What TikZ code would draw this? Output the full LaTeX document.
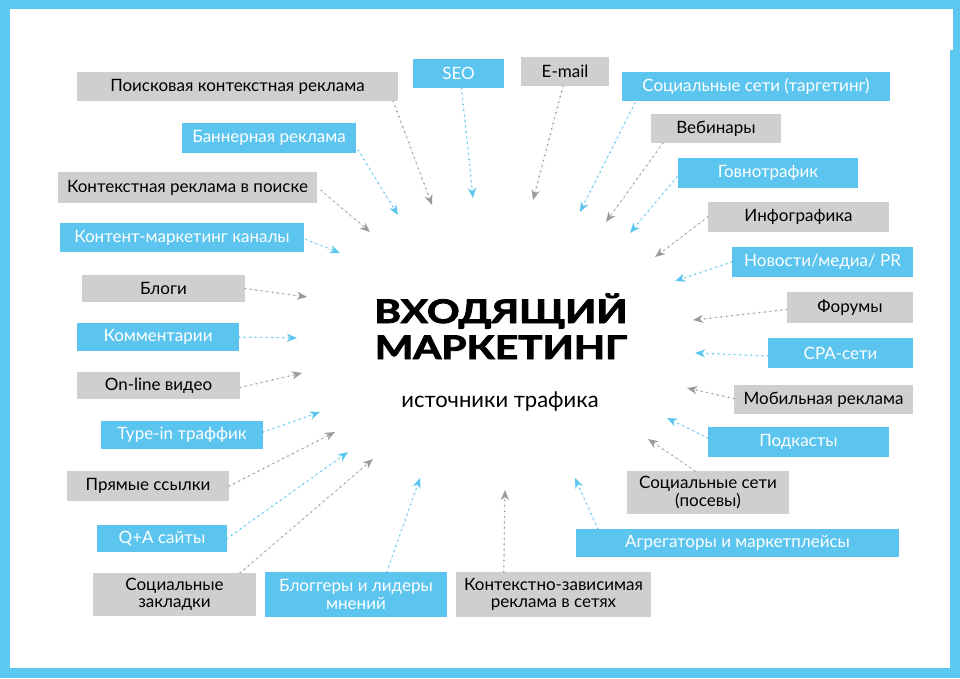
\documentclass[tikz,border=0pt]{standalone}
\usepackage{fontspec}
\setmainfont{Lato}
\newfontfamily\titlefont{Lato}[BoldFeatures={FakeBold=2.5}]
\usetikzlibrary{arrows.meta}
\definecolor{skyb}{HTML}{5BC5F0}
\definecolor{boxg}{HTML}{CFCFD2}
\definecolor{arrg}{HTML}{9B9B9E}
\definecolor{frameb}{HTML}{5CC8F2}
\tikzset{
  box/.style={rectangle, inner sep=0pt, align=center, font=\fontsize{17}{17.5}\selectfont},
  gbox/.style={box, fill=boxg, text=black},
  bbox/.style={box, fill=skyb, text=white},
  arr/.style={line width=1.8pt, dash pattern=on 0pt off 5.5pt, line cap=round,
    -{Stealth[length=10pt,width=8pt,inset=3pt,line cap=butt]}},
  garr/.style={arr, draw=arrg, fill=arrg},
  barr/.style={arr, draw=skyb, fill=skyb},
  ttl/.style={anchor=base, inner sep=0pt, font=\titlefont\bfseries\fontsize{32.5}{32.5}\selectfont},
}
\begin{document}
\begin{tikzpicture}[x=1pt,y=-1pt]
\useasboundingbox (0,0) rectangle (960,678);
\fill[frameb] (0,0) rectangle (960,678);
\fill[white] (10,9) rectangle (950,668);
\fill[white] (949,9) rectangle (953,50);

% title
\node[ttl] (t1) at (501,323) {\scalebox{1.25}[1]{ВХОДЯЩИЙ}};
\node[ttl] (t2) at (501,359) {\scalebox{1.25}[1]{МАРКЕТИНГ}};
\node[anchor=base, font=\fontsize{22}{22}\selectfont, inner sep=0pt] (t3) at (500,407) {источники трафика};

% boxes
\node[gbox, minimum width=321pt, minimum height=29pt] (n1) at (237.5,86.5) {Поисковая контекстная реклама};
\node[bbox, minimum width=91pt, minimum height=29pt] (n2) at (458.5,73.5) {SEO};
\node[gbox, minimum width=88pt, minimum height=29pt] (n3) at (565,71.5) {E-mail};
\node[bbox, minimum width=268pt, minimum height=29pt] (n4) at (756,86.5) {Социальные сети (таргетинг)};
\node[bbox, minimum width=174pt, minimum height=30pt] (n5) at (269,138) {Баннерная реклама};
\node[gbox, minimum width=130pt, minimum height=29pt] (n6) at (716,128.5) {Вебинары};
\node[gbox, minimum width=259pt, minimum height=31pt] (n7) at (187.5,187.5) {Контекстная реклама в поиске};
\node[bbox, minimum width=180pt, minimum height=30pt] (n8) at (768,173) {Говнотрафик};
\node[bbox, minimum width=244pt, minimum height=29pt] (n9) at (182,237.5) {Контент-маркетинг каналы};
\node[gbox, minimum width=181pt, minimum height=30pt] (n10) at (798.5,217) {Инфографика};
\node[bbox, minimum width=181pt, minimum height=30pt] (n11) at (822.5,262) {Новости/медиа/ PR};
\node[gbox, minimum width=163pt, minimum height=27pt] (n12) at (163.5,288.5) {Блоги};
\node[gbox, minimum width=126pt, minimum height=31pt] (n13) at (850,307.5) {Форумы};
\node[bbox, minimum width=162pt, minimum height=28pt] (n14) at (158,337) {Комментарии};
\node[bbox, minimum width=145pt, minimum height=30pt] (n15) at (840.5,353) {CPA-сети};
\node[gbox, minimum width=163pt, minimum height=27pt] (n16) at (158.5,385.5) {On-line видео};
\node[gbox, minimum width=179pt, minimum height=29pt] (n17) at (823.5,399.5) {Мобильная реклама};
\node[bbox, minimum width=162pt, minimum height=28pt] (n18) at (182,435) {Type-in траффик};
\node[bbox, minimum width=181pt, minimum height=30pt] (n19) at (798.5,442) {Подкасты};
\node[gbox, minimum width=162pt, minimum height=30pt] (n20) at (148,486) {Прямые ссылки};
\node[gbox, minimum width=162pt, minimum height=43pt] (n21) at (708,492.5) {Социальные сети\\(посевы)};
\node[bbox, minimum width=323pt, minimum height=28pt] (n22) at (737.5,543) {Агрегаторы и маркетплейсы};
\node[bbox, minimum width=130pt, minimum height=27pt] (n23) at (162,538.5) {Q+A сайты};
\node[gbox, minimum width=163pt, minimum height=43pt] (n24) at (174.5,594.5) {Социальные\\закладки};
\node[bbox, minimum width=182pt, minimum height=45pt] (n25) at (356,594.5) {Блоггеры и лидеры\\мнений};
\node[gbox, minimum width=195pt, minimum height=45pt] (n26) at (553.5,594.5) {Контекстно-зависимая\\реклама в сетях};

% arrow targets
\coordinate (e1) at (432,205);
\coordinate (e2) at (473,198);
\coordinate (e5) at (398,215);
\coordinate (e7) at (370,232);
\coordinate (e9) at (340,253);
\coordinate (e3) at (533,200);
\coordinate (e4) at (580,212);
\coordinate (e6) at (606,222);
\coordinate (e8) at (630,233);
\coordinate (e10) at (655,257);
\coordinate (e11) at (675,281);
\coordinate (e13) at (693,320);
\coordinate (e15) at (695,353);
\coordinate (e17) at (687,388);
\coordinate (e19) at (667,418);
\coordinate (e21) at (648,439);
\coordinate (e22) at (575,478);
\coordinate (e26) at (505,490);
\coordinate (e25) at (420,478);
\coordinate (e24) at (373,459);
\coordinate (e23) at (348,452);
\coordinate (e20) at (335,432);
\coordinate (e18) at (320,412);
\coordinate (e16) at (302,373);
\coordinate (e14) at (297,338);
\coordinate (e12) at (307,297);

% arrows
\draw[garr] ([xshift=-5pt]n1.south east) -- (e1);
\draw[barr] ([xshift=3pt]n2.south) -- (e2);
\draw[barr] ([xshift=2pt,yshift=3pt]n5.south east) -- (e5);
\draw[garr] ([xshift=4pt,yshift=-3pt]n7.east) -- (e7);
\draw[barr] ([xshift=2pt,yshift=-2pt]n9.east) -- (e9);
\draw[garr] ([xshift=-2pt]n3.south) -- (e3);
\draw[barr] ([xshift=13pt,yshift=-2pt]n4.south west) -- (e4);
\draw[garr] ([xshift=12pt]n6.south west) -- (e6);
\draw[barr] ([xshift=-1pt,yshift=-4pt]n8.west) -- (e8);
\draw[garr] (n10.west) -- (e10);
\draw[barr] (n11.west) -- (e11);
\draw[garr] ([yshift=-2pt]n13.west) -- (e13);
\draw[barr] ([yshift=-3pt]n15.west) -- (e15);
\draw[garr] ([yshift=1pt]n17.west) -- (e17);
\draw[barr] ([yshift=4pt]n19.west) -- (e19);
\draw[garr] ([xshift=68pt]n21.north west) -- (e21);
\draw[barr] ([xshift=22pt]n22.north west) -- (e22);
\draw[garr] ([xshift=48pt]n26.north west) -- (e26);
\draw[barr] ([xshift=122pt]n25.north west) -- (e25);
\draw[garr] ([xshift=-16pt]n24.north east) -- (e24);
\draw[barr] (n23.east) -- (e23);
\draw[garr] (n20.east) -- (e20);
\draw[barr] ([yshift=3pt]n18.east) -- (e18);
\draw[garr] ([yshift=-2pt]n16.east) -- (e16);
\draw[barr] (n14.east) -- (e14);
\draw[garr] (n12.east) -- (e12);
\end{tikzpicture}
\end{document}
